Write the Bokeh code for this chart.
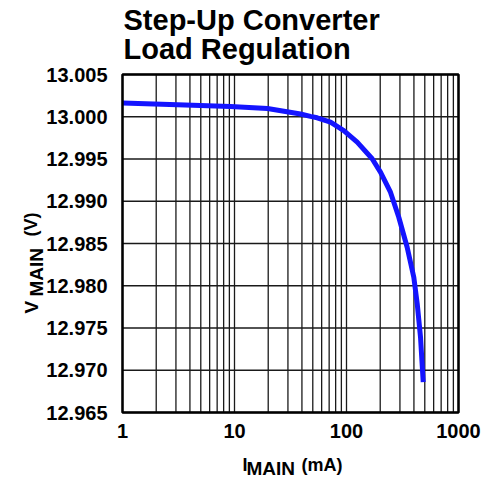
import math
from bokeh.plotting import figure
from bokeh.models import Range1d, FixedTicker, PrintfTickFormatter, Label, ColumnDataSource, BoxAnnotation
from bokeh.embed import file_html
from bokeh.resources import INLINE

# ---- data ----
i_main = [1.0, 3.1, 9.2, 19.7, 38.8, 47.7, 54.7, 72, 94.6, 124.6, 169.5, 201, 247, 293, 348, 399, 428, 458, 484]
v_main = [13.00162, 13.00141, 13.00121, 13.00098, 13.00033, 13.00005, 12.99988, 12.99936, 12.99837,
          12.99699, 12.99503, 12.99344, 12.99107, 12.98811, 12.98456, 12.98101, 12.97786, 12.97391, 12.96859]
x_ticks = [1, 10, 100, 1000]
x_minor = [2, 3, 4, 5, 6, 7, 8, 9, 20, 30, 40, 50, 60, 70, 80, 90, 200, 300, 400, 500, 600, 700, 800, 900]
x_tick_labels = ["1", "10", "100", "1000"]
y_ticks = [12.965, 12.970, 12.975, 12.980, 12.985, 12.990, 12.995, 13.000, 13.005]
title_lines = ["Step-Up Converter", "Load Regulation"]

# ---- layout (canvas pixels) ----
W, H = 489, 479
BL, BR, BT, BB = 122, 458, 74, 412          # visible plot box
XMIN, XMAX = x_ticks[0], x_ticks[-1]
YMIN, YMAX = y_ticks[0], y_ticks[-1]
FONT = "Liberation Sans"
DEC = math.log10(XMAX / XMIN)

def fx(cx):
    return XMIN * 10 ** (DEC * (cx - BL) / (BR - BL))

def fy(cy):
    return YMAX - (YMAX - YMIN) * (cy - BT) / (BB - BT)

p = figure(width=W, height=H, x_axis_type="log", output_backend="svg", toolbar_location=None,
           x_range=Range1d(fx(0), fx(W)), y_range=Range1d(fy(H), fy(0)),
           min_border_left=0, min_border_right=0, min_border_top=0, min_border_bottom=0)
p.background_fill_color = "white"
p.border_fill_color = "white"
p.outline_line_color = None
p.xgrid.visible = False
p.ygrid.visible = False

p.xaxis.ticker = FixedTicker(ticks=x_ticks)
p.xaxis.major_label_overrides = {t: s for t, s in zip(x_ticks, x_tick_labels)}
p.yaxis.ticker = FixedTicker(ticks=y_ticks)
p.yaxis.formatter = PrintfTickFormatter(format="%.3f")
p.xaxis.fixed_location = YMIN
p.yaxis.fixed_location = XMIN

for ax in (p.xaxis[0], p.yaxis[0]):
    ax.axis_line_color = None
    ax.major_tick_line_color = None
    ax.minor_tick_line_color = None
    ax.major_tick_out = 0
    ax.major_tick_in = 0
    ax.minor_tick_out = 0
    ax.minor_tick_in = 0
    ax.major_label_text_font = FONT
    ax.major_label_text_font_style = "bold"
    ax.major_label_text_font_size = "20px"
    ax.major_label_text_color = "black"
p.xaxis.major_label_standoff = 11
p.yaxis.major_label_standoff = 15

# grid lines at the tick positions, limited to the plot box
GRID = "#1a1a1a"
gx = sorted(x_ticks + x_minor)
p.segment(x0=gx, y0=[YMIN] * len(gx), x1=gx, y1=[YMAX] * len(gx), line_color=GRID, line_width=1.3)
p.segment(x0=[XMIN] * len(y_ticks), y0=y_ticks, x1=[XMAX] * len(y_ticks), y1=y_ticks,
          line_color=GRID, line_width=1.3)

src = ColumnDataSource(data=dict(x=i_main, y=v_main))
p.line("x", "y", source=src, line_color="#1414ff", line_width=5)

p.add_layout(BoxAnnotation(left=XMIN, right=XMAX, bottom=YMIN, top=YMAX, fill_alpha=0,
                           line_color="black", line_width=2.5, line_alpha=1))

BASE_K = 0.34   # measured shift of the rendered alphabetic baseline, in em

def lab(text, cx, cy, size, rotated=False):
    d = BASE_K * size
    if rotated:
        ax_, ay_, ang = cx - d, cy, math.pi / 2
    else:
        ax_, ay_, ang = cx, cy - d, 0.0
    p.add_layout(Label(x=fx(ax_), y=fy(ay_), text=text, text_font=FONT, text_font_size=f"{size}px",
                       text_font_style="bold", text_color="black", text_align="left",
                       text_baseline="alphabetic", angle=ang))

# title
lab(title_lines[0], 123, 29.5, 29)
lab(title_lines[1], 123, 58.5, 29)

# x axis label  I_MAIN (mA)
lab("I", 242, 470.5, 18)
lab("MAIN", 246, 474.5, 19)
lab("(mA)", 301, 470.5, 18)

# y axis label  V_MAIN (V)
lab("V", 37, 313, 19, rotated=True)
lab("MAIN", 42, 296, 19, rotated=True)
lab("(V)", 37, 236, 18, rotated=True)

open("out.html", "w").write(file_html(p, INLINE))
